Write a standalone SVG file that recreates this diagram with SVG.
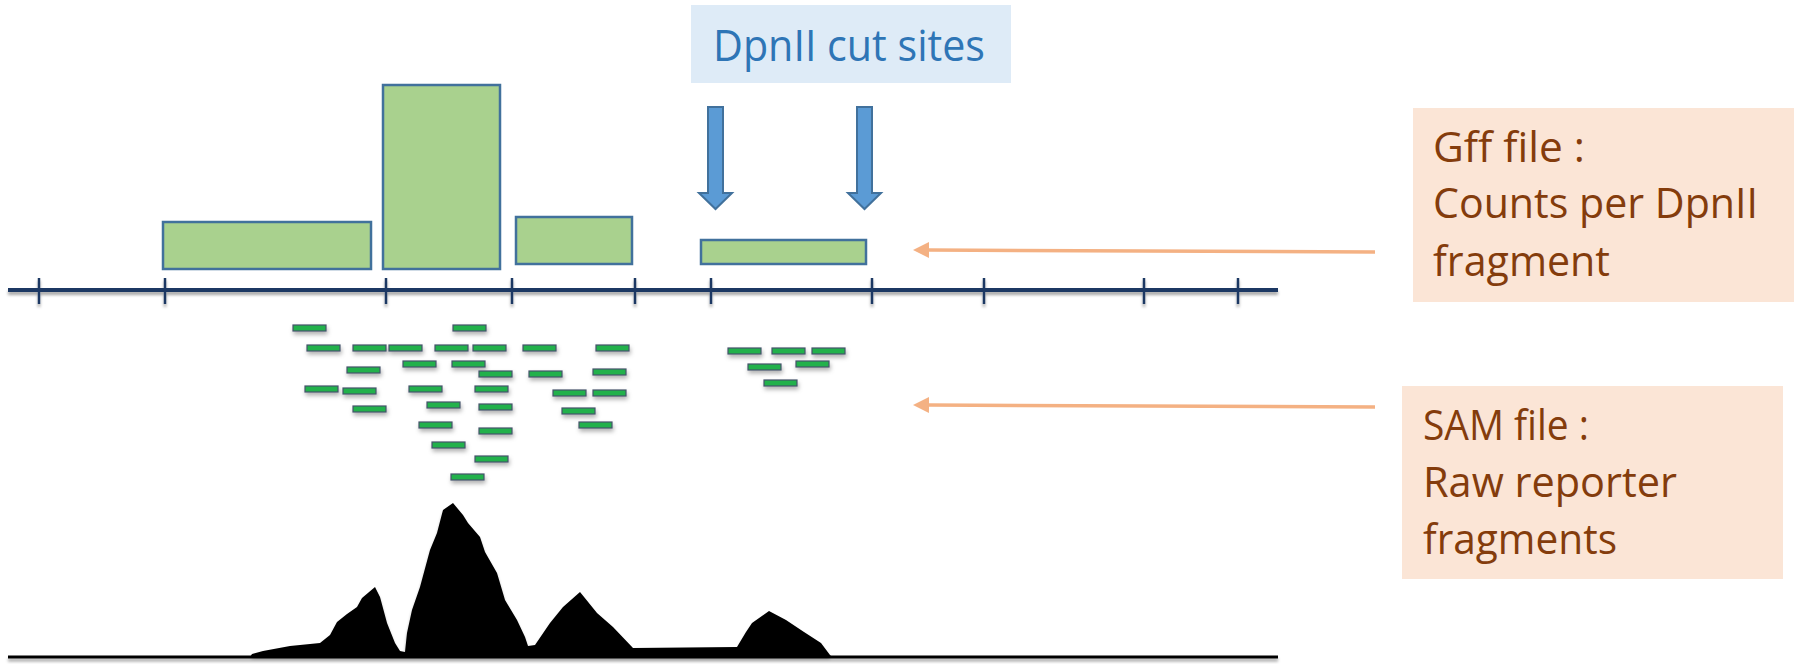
<svg xmlns="http://www.w3.org/2000/svg" width="1797" height="664" viewBox="0 0 1797 664">
<defs>
<style>
.bar{fill:#a9d18e;stroke:#41719c;stroke-width:2.5}
.cut{fill:#5b9bd5;stroke:#41719c;stroke-width:2}
.tick{stroke:#1f3864;stroke-width:2.5}
.read{fill:#22b14c;stroke:#44546a;stroke-width:1.2}
.lbl{fill:#843c0c;font-family:"Open Sans","Noto Sans",sans-serif;font-size:42px}
.conn{stroke:#f4b183;stroke-width:3.5;fill:none}
</style>
<filter id="sh" x="-20%" y="-50%" width="140%" height="300%">
<feDropShadow dx="1" dy="3" stdDeviation="2" flood-color="#000" flood-opacity="0.3"/>
</filter>
<filter id="shs" x="-5%" y="-50%" width="110%" height="300%">
<feDropShadow dx="0" dy="3" stdDeviation="1.8" flood-color="#000" flood-opacity="0.35"/>
</filter>
<marker id="ah" viewBox="0 0 16 16" refX="0" refY="8" markerWidth="16" markerHeight="16" markerUnits="userSpaceOnUse" orient="auto">
<path d="M0,0 L16,8 L0,16 Z" fill="#f4b183"/>
</marker>
</defs>
<rect width="1797" height="664" fill="#ffffff"/>

<g id="axis" filter="url(#shs)">
<line x1="8" y1="290" x2="1278" y2="290" stroke="#1f3864" stroke-width="4"/>
<line class="tick" x1="39" y1="278" x2="39" y2="304"/>
<line class="tick" x1="165" y1="278" x2="165" y2="304"/>
<line class="tick" x1="386" y1="278" x2="386" y2="304"/>
<line class="tick" x1="512" y1="278" x2="512" y2="304"/>
<line class="tick" x1="635" y1="278" x2="635" y2="304"/>
<line class="tick" x1="711" y1="278" x2="711" y2="304"/>
<line class="tick" x1="872" y1="278" x2="872" y2="304"/>
<line class="tick" x1="984" y1="278" x2="984" y2="304"/>
<line class="tick" x1="1144" y1="278" x2="1144" y2="304"/>
<line class="tick" x1="1238" y1="278" x2="1238" y2="304"/>
</g>

<g id="counts">
<rect class="bar" x="163" y="222" width="208" height="47"/>
<rect class="bar" x="383" y="85" width="117" height="184"/>
<rect class="bar" x="516" y="217" width="116" height="47"/>
<rect class="bar" x="701" y="240" width="165" height="24"/>
</g>

<g id="dpnii-label">
<rect x="691" y="5" width="320" height="78" fill="#deebf7"/>
<text x="713" y="61" fill="#2e75b6" font-family="Open Sans, Noto Sans, sans-serif" font-size="44" textLength="272" lengthAdjust="spacingAndGlyphs">DpnII cut sites</text>
</g>

<g id="cut-arrows">
<path class="cut" d="M708,107 H723 V193 H732 L715.5,209 L699,193 H708 Z"/>
<path class="cut" d="M857,107 H872 V193 H881 L864.5,209 L848,193 H857 Z"/>
</g>

<g id="reads" filter="url(#sh)">
<rect class="read" x="293" y="325" width="33" height="6"/>
<rect class="read" x="453" y="325" width="33" height="6"/>
<rect class="read" x="307" y="345" width="33" height="6"/>
<rect class="read" x="353" y="345" width="33" height="6"/>
<rect class="read" x="389" y="345" width="33" height="6"/>
<rect class="read" x="435" y="345" width="33" height="6"/>
<rect class="read" x="473" y="345" width="33" height="6"/>
<rect class="read" x="523" y="345" width="33" height="6"/>
<rect class="read" x="596" y="345" width="33" height="6"/>
<rect class="read" x="403" y="361" width="33" height="6"/>
<rect class="read" x="452" y="361" width="33" height="6"/>
<rect class="read" x="347" y="367" width="33" height="6"/>
<rect class="read" x="479" y="371" width="33" height="6"/>
<rect class="read" x="529" y="371" width="33" height="6"/>
<rect class="read" x="593" y="369" width="33" height="6"/>
<rect class="read" x="305" y="386" width="33" height="6"/>
<rect class="read" x="409" y="386" width="33" height="6"/>
<rect class="read" x="475" y="386" width="33" height="6"/>
<rect class="read" x="343" y="388" width="33" height="6"/>
<rect class="read" x="553" y="390" width="33" height="6"/>
<rect class="read" x="593" y="390" width="33" height="6"/>
<rect class="read" x="427" y="402" width="33" height="6"/>
<rect class="read" x="479" y="404" width="33" height="6"/>
<rect class="read" x="353" y="406" width="33" height="6"/>
<rect class="read" x="562" y="408" width="33" height="6"/>
<rect class="read" x="419" y="422" width="33" height="6"/>
<rect class="read" x="579" y="422" width="33" height="6"/>
<rect class="read" x="479" y="428" width="33" height="6"/>
<rect class="read" x="432" y="442" width="33" height="6"/>
<rect class="read" x="475" y="456" width="33" height="6"/>
<rect class="read" x="451" y="474" width="33" height="6"/>
<rect class="read" x="728" y="348" width="33" height="6"/>
<rect class="read" x="772" y="348" width="33" height="6"/>
<rect class="read" x="812" y="348" width="33" height="6"/>
<rect class="read" x="748" y="364" width="33" height="6"/>
<rect class="read" x="796" y="361" width="33" height="6"/>
<rect class="read" x="764" y="380" width="33" height="6"/>
</g>

<g id="signal" filter="url(#shs)">
<line x1="8" y1="657" x2="1278" y2="657" stroke="#000" stroke-width="3"/>
<path fill="#000" d="M250,657 L252,654 L263,651 L290,646 L320,643 L330,635 L337,622 L347,614 L357,607 L362,598 L375,587 L380,597 L387,623 L395,643 L400,651 L405,652 L407,633 L412,610 L420,587 L430,550 L437,533 L443,510 L453,503 L463,515 L468,523 L480,537 L485,552 L497,573 L505,600 L517,620 L525,637 L528,646 L535,645 L550,623 L563,607 L580,592 L597,613 L613,627 L633,648 L737,647 L746,632 L752,623 L769,611 L786,620 L804,632 L821,643 L830,655 L832,657 Z"/>
</g>

<g id="connectors">
<path class="conn" d="M1375,252 L929,250" marker-end="url(#ah)"/>
<path class="conn" d="M1375,407 L929,405" marker-end="url(#ah)"/>
</g>

<g id="gff-label">
<rect x="1413" y="108" width="381" height="194" fill="#fbe5d6"/>
<text class="lbl" x="1433" y="162" textLength="152" lengthAdjust="spacingAndGlyphs">Gff file :</text>
<text class="lbl" x="1433" y="218" textLength="325" lengthAdjust="spacingAndGlyphs">Counts per DpnII</text>
<text class="lbl" x="1433" y="276" textLength="177" lengthAdjust="spacingAndGlyphs">fragment</text>
</g>

<g id="sam-label">
<rect x="1402" y="386" width="381" height="193" fill="#fbe5d6"/>
<text class="lbl" x="1423" y="440" textLength="166" lengthAdjust="spacingAndGlyphs">SAM file :</text>
<text class="lbl" x="1423" y="497" textLength="254" lengthAdjust="spacingAndGlyphs">Raw reporter</text>
<text class="lbl" x="1423" y="554" textLength="194" lengthAdjust="spacingAndGlyphs">fragments</text>
</g>
</svg>
